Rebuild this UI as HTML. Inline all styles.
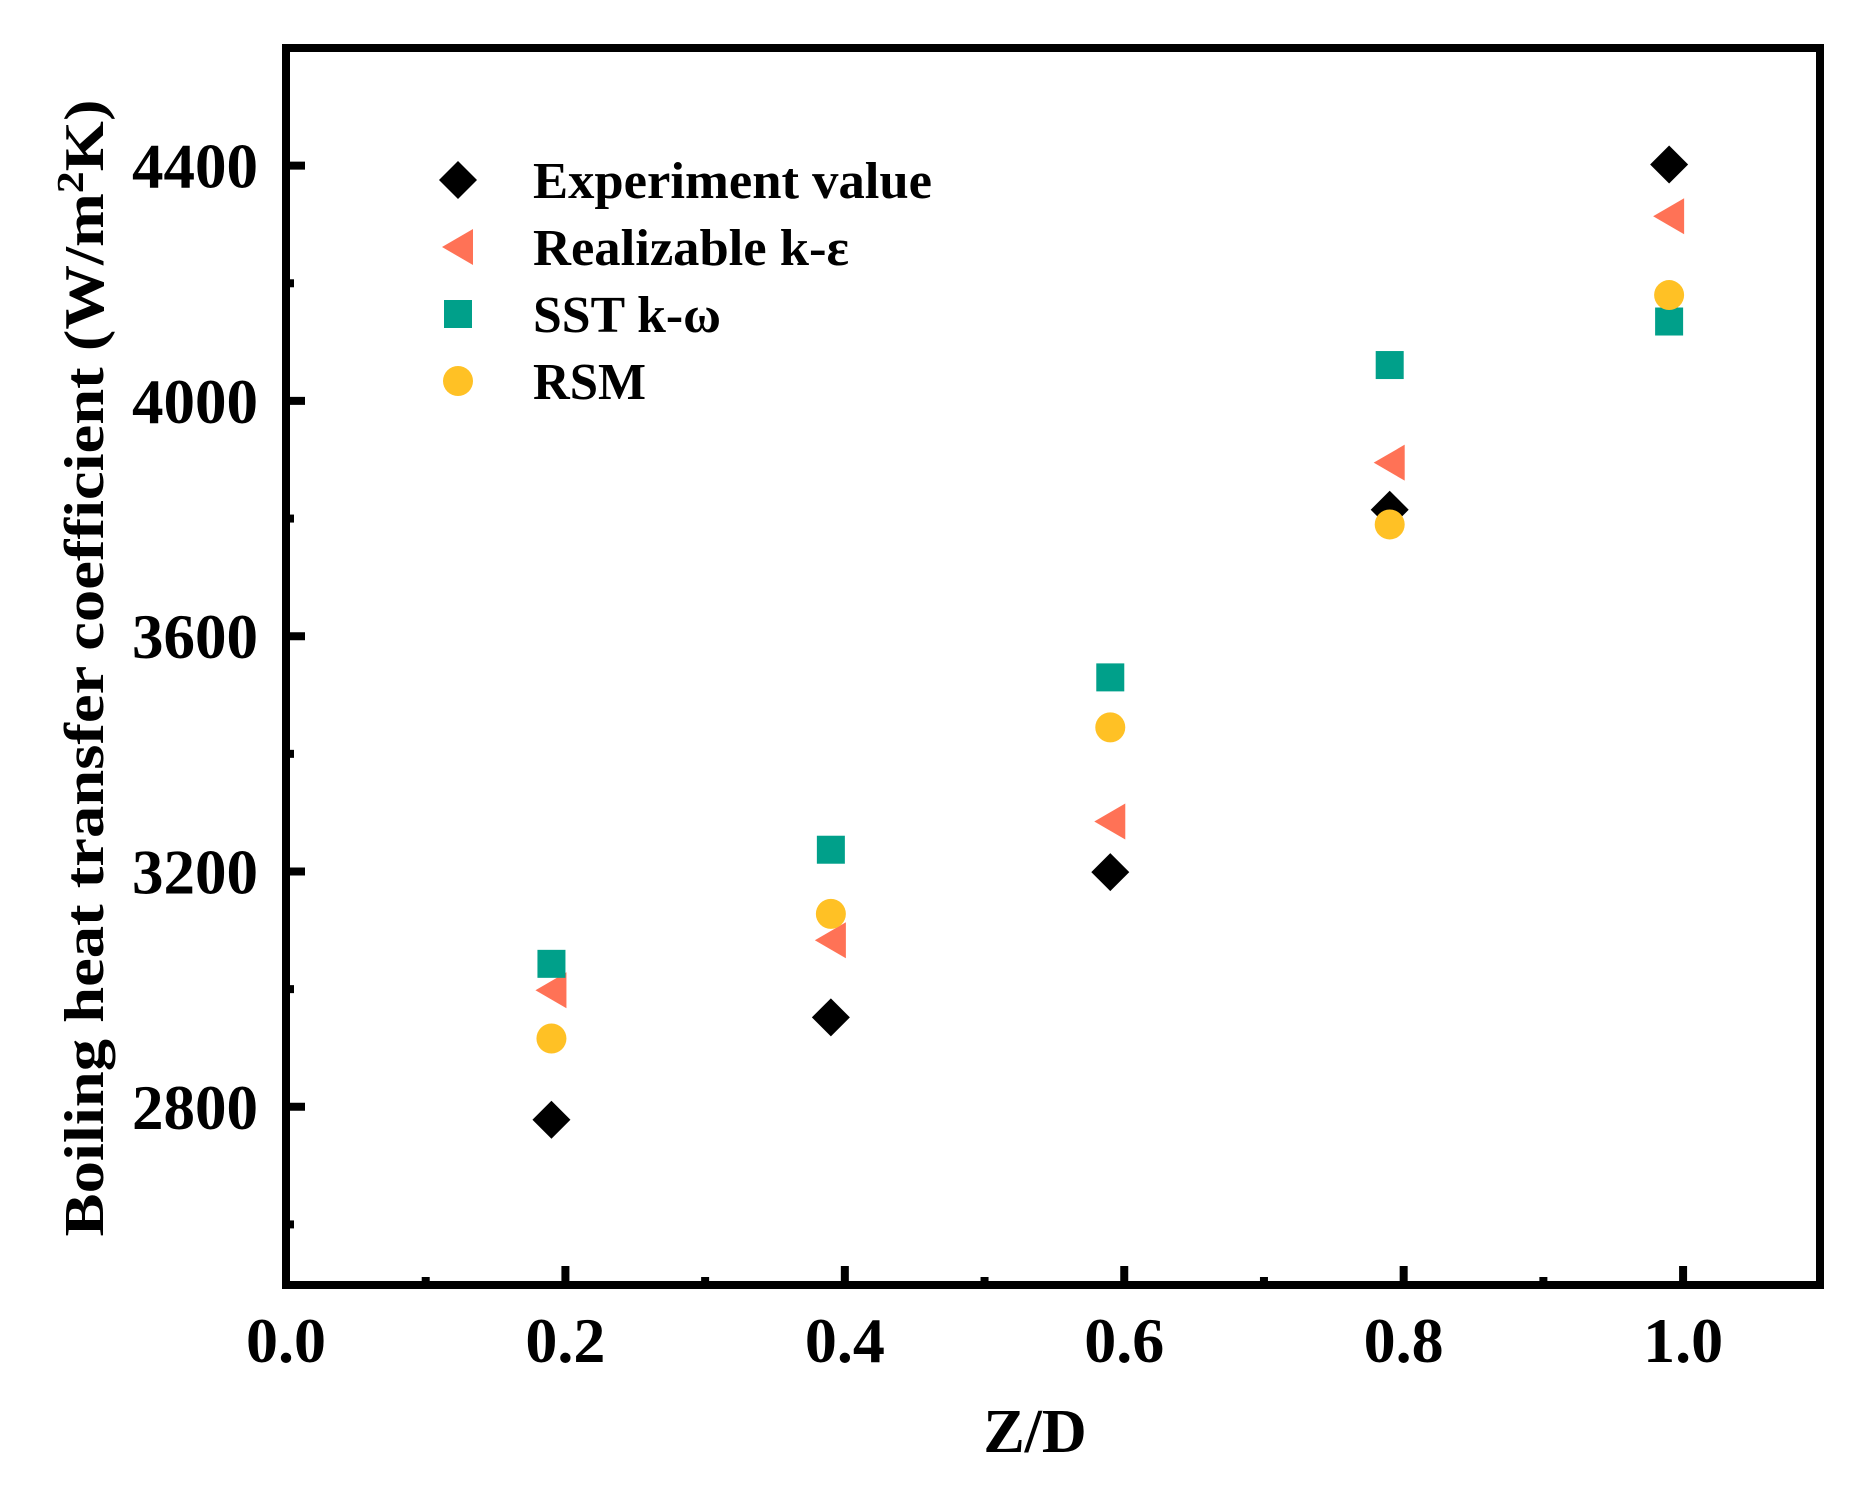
<!DOCTYPE html>
<html><head><meta charset="utf-8"><style>
html,body{margin:0;padding:0;background:#fff}
svg{display:block}
text{font-family:"Liberation Serif","DejaVu Serif",serif;font-weight:bold;fill:#000}
</style></head><body>
<svg id="chart" width="1855" height="1488" viewBox="0 0 1855 1488" xmlns="http://www.w3.org/2000/svg">
<g id="axes"></g>
<g id="marks"></g>
<g id="legend"></g>
</svg>
<script>
const xs = [0.19, 0.39, 0.59, 0.79, 0.99];
const experiment = [2778, 2952, 3199, 3815, 4402];
const realizable = [2998, 3083, 3285, 3895, 4314];
const sst = [3043, 3237, 3530, 4061, 4135];
const rsm = [2916, 3128, 3445, 3790, 4180];
const xTickLabels = ["0.0","0.2","0.4","0.6","0.8","1.0"];
const yTickLabels = ["2800","3200","3600","4000","4400"];
const seriesNames = ["Experiment value","Realizable k-ε","SST k-ω","RSM"];

const NS="http://www.w3.org/2000/svg";
const L=286,R=1820,T=48,B=1285;
const xMin=0,xMax=1.098,yMin=2497,yMax=4600;
function X(v){return L+(v-xMin)/(xMax-xMin)*(R-L);}
function Y(v){return B-(v-yMin)/(yMax-yMin)*(B-T);}
function mk(tag,attrs,parent){const e=document.createElementNS(NS,tag);for(const k in attrs)e.setAttribute(k,attrs[k]);parent.appendChild(e);return e;}
const axes=document.getElementById('axes'),marks=document.getElementById('marks'),legend=document.getElementById('legend');

let fr=mk('rect',{x:L,y:T,width:R-L,height:B-T,fill:'none',stroke:'#000','stroke-width':8},axes);



for(let i=0;i<=10;i++){
  const v=i/10; if(X(v)>R-5)break;
  const major=i%2===0; const len=major?19:8;
  let t=mk('line',{x1:X(v),x2:X(v),y1:B,y2:B-len,stroke:'#000','stroke-width':8},axes);
  
  
}
xTickLabels.forEach(s=>{
  const v=parseFloat(s);
  let t=mk('text',{x:X(v),y:1362,'font-size':64,'text-anchor':'middle'},axes);
  t.textContent=s;
  
  
});
for(let v=2600;v<=4600;v+=200){
  if(Y(v)<T+5)break;
  const major=(v%400===0); const len=major?19:8;
  let t=mk('line',{x1:L,x2:L+len,y1:Y(v),y2:Y(v),stroke:'#000','stroke-width':8},axes);
  
  
}
yTickLabels.forEach(s=>{
  const v=parseFloat(s);
  let t=mk('text',{x:258,y:Y(v)+22,'font-size':64,'text-anchor':'end',textLength:126,lengthAdjust:'spacingAndGlyphs'},axes);
  t.textContent=s;
  
  
});
let xt=mk('text',{x:1035,y:1452,'font-size':62,'text-anchor':'middle'},axes);
xt.textContent='Z/D';


let yt=mk('text',{x:0,y:0,'font-size':56,'text-anchor':'middle',transform:'translate(103,668) rotate(-90)',textLength:1137,lengthAdjust:'spacingAndGlyphs'},axes);
yt.innerHTML='Boiling heat transfer coefficient (W/m<tspan dy="-20" font-size="38">2</tspan><tspan dy="20">K)</tspan>';



function marker(type,cx,cy,parent){
  let e;
  if(type===0) e=mk('polygon',{points:`${cx},${cy-19} ${cx+19},${cy} ${cx},${cy+19} ${cx-19},${cy}`,fill:'#000'},parent);
  else if(type===1) e=mk('polygon',{points:`${cx+15},${cy-18} ${cx+15},${cy+18} ${cx-16},${cy}`,fill:'#FF7256'},parent);
  else if(type===2) e=mk('rect',{x:cx-14,y:cy-14,width:28,height:28,fill:'#00A08A'},parent);
  else e=mk('circle',{cx:cx,cy:cy,r:15,fill:'#FFC125'},parent);
  return e;
}
const all=[experiment,realizable,sst,rsm];
const names=['experiment-point','realizable-point','sst-point','rsm-point'];
[0,1,2,3].forEach(si=>{
  all[si].forEach((v,i)=>{
    const e=marker(si,X(xs[i]),Y(v),marks);
    
    
  });
});
const rowsY=[180,247,314,381];
const tl=[399,316,188,113];
seriesNames.forEach((n,i)=>{
  const m=marker(i,458,rowsY[i],legend);
  
  
  let t=mk('text',{x:533,y:rowsY[i]+18,'font-size':52,textLength:tl[i],lengthAdjust:'spacingAndGlyphs'},legend);
  t.textContent=n;
  
  
});
</script>
</body></html>
